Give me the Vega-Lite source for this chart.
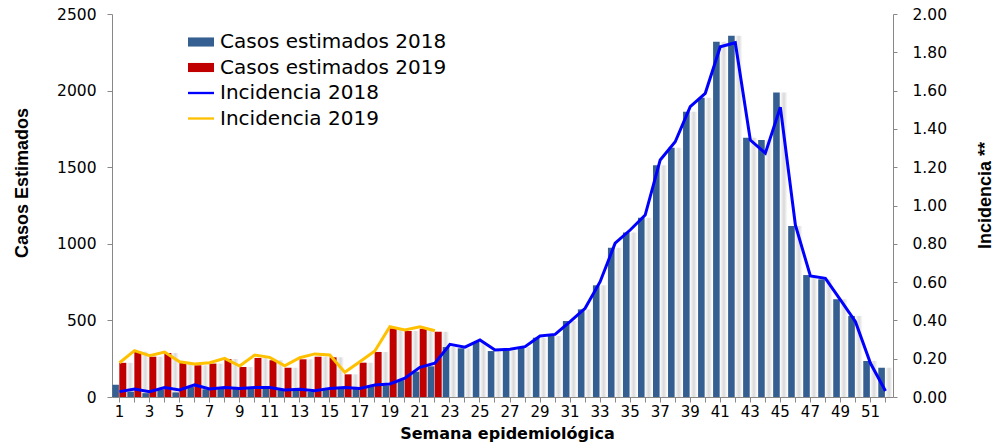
{
  "$schema": "https://vega.github.io/schema/vega-lite/v6.json",
  "width": 781,
  "height": 383,
  "autosize": {"type": "none"},
  "padding": {"left": 112, "top": 14, "right": 110, "bottom": 51},
  "background": "white",
  "config": {"view": {"stroke": null}, "font": "DejaVu Sans"},
  "datasets": {
    "casos": [
      {"semana": 1, "serie": "Casos estimados 2018", "casos": 80},
      {"semana": 2, "serie": "Casos estimados 2018", "casos": 35},
      {"semana": 3, "serie": "Casos estimados 2018", "casos": 25},
      {"semana": 4, "serie": "Casos estimados 2018", "casos": 50},
      {"semana": 5, "serie": "Casos estimados 2018", "casos": 30},
      {"semana": 6, "serie": "Casos estimados 2018", "casos": 65},
      {"semana": 7, "serie": "Casos estimados 2018", "casos": 50},
      {"semana": 8, "serie": "Casos estimados 2018", "casos": 55},
      {"semana": 9, "serie": "Casos estimados 2018", "casos": 55},
      {"semana": 10, "serie": "Casos estimados 2018", "casos": 60},
      {"semana": 11, "serie": "Casos estimados 2018", "casos": 55},
      {"semana": 12, "serie": "Casos estimados 2018", "casos": 45},
      {"semana": 13, "serie": "Casos estimados 2018", "casos": 45},
      {"semana": 14, "serie": "Casos estimados 2018", "casos": 35},
      {"semana": 15, "serie": "Casos estimados 2018", "casos": 50},
      {"semana": 16, "serie": "Casos estimados 2018", "casos": 60},
      {"semana": 17, "serie": "Casos estimados 2018", "casos": 60},
      {"semana": 18, "serie": "Casos estimados 2018", "casos": 70},
      {"semana": 19, "serie": "Casos estimados 2018", "casos": 75},
      {"semana": 20, "serie": "Casos estimados 2018", "casos": 110},
      {"semana": 21, "serie": "Casos estimados 2018", "casos": 165},
      {"semana": 22, "serie": "Casos estimados 2018", "casos": 200},
      {"semana": 23, "serie": "Casos estimados 2018", "casos": 326},
      {"semana": 24, "serie": "Casos estimados 2018", "casos": 318},
      {"semana": 25, "serie": "Casos estimados 2018", "casos": 359},
      {"semana": 26, "serie": "Casos estimados 2018", "casos": 300},
      {"semana": 27, "serie": "Casos estimados 2018", "casos": 305},
      {"semana": 28, "serie": "Casos estimados 2018", "casos": 326},
      {"semana": 29, "serie": "Casos estimados 2018", "casos": 387},
      {"semana": 30, "serie": "Casos estimados 2018", "casos": 398},
      {"semana": 31, "serie": "Casos estimados 2018", "casos": 496},
      {"semana": 32, "serie": "Casos estimados 2018", "casos": 572},
      {"semana": 33, "serie": "Casos estimados 2018", "casos": 729},
      {"semana": 34, "serie": "Casos estimados 2018", "casos": 975},
      {"semana": 35, "serie": "Casos estimados 2018", "casos": 1073},
      {"semana": 36, "serie": "Casos estimados 2018", "casos": 1170},
      {"semana": 37, "serie": "Casos estimados 2018", "casos": 1512},
      {"semana": 38, "serie": "Casos estimados 2018", "casos": 1627},
      {"semana": 39, "serie": "Casos estimados 2018", "casos": 1862},
      {"semana": 40, "serie": "Casos estimados 2018", "casos": 1954},
      {"semana": 41, "serie": "Casos estimados 2018", "casos": 2319},
      {"semana": 42, "serie": "Casos estimados 2018", "casos": 2358},
      {"semana": 43, "serie": "Casos estimados 2018", "casos": 1693},
      {"semana": 44, "serie": "Casos estimados 2018", "casos": 1678},
      {"semana": 45, "serie": "Casos estimados 2018", "casos": 1987},
      {"semana": 46, "serie": "Casos estimados 2018", "casos": 1116},
      {"semana": 47, "serie": "Casos estimados 2018", "casos": 796},
      {"semana": 48, "serie": "Casos estimados 2018", "casos": 768},
      {"semana": 49, "serie": "Casos estimados 2018", "casos": 638},
      {"semana": 50, "serie": "Casos estimados 2018", "casos": 529},
      {"semana": 51, "serie": "Casos estimados 2018", "casos": 235},
      {"semana": 52, "serie": "Casos estimados 2018", "casos": 191},
      {"semana": 1, "serie": "Casos estimados 2019", "casos": 223},
      {"semana": 2, "serie": "Casos estimados 2019", "casos": 296},
      {"semana": 3, "serie": "Casos estimados 2019", "casos": 263},
      {"semana": 4, "serie": "Casos estimados 2019", "casos": 287},
      {"semana": 5, "serie": "Casos estimados 2019", "casos": 224},
      {"semana": 6, "serie": "Casos estimados 2019", "casos": 207},
      {"semana": 7, "serie": "Casos estimados 2019", "casos": 218},
      {"semana": 8, "serie": "Casos estimados 2019", "casos": 248},
      {"semana": 9, "serie": "Casos estimados 2019", "casos": 196},
      {"semana": 10, "serie": "Casos estimados 2019", "casos": 255},
      {"semana": 11, "serie": "Casos estimados 2019", "casos": 240},
      {"semana": 12, "serie": "Casos estimados 2019", "casos": 191},
      {"semana": 13, "serie": "Casos estimados 2019", "casos": 246},
      {"semana": 14, "serie": "Casos estimados 2019", "casos": 263},
      {"semana": 15, "serie": "Casos estimados 2019", "casos": 259},
      {"semana": 16, "serie": "Casos estimados 2019", "casos": 148},
      {"semana": 17, "serie": "Casos estimados 2019", "casos": 224},
      {"semana": 18, "serie": "Casos estimados 2019", "casos": 294},
      {"semana": 19, "serie": "Casos estimados 2019", "casos": 448},
      {"semana": 20, "serie": "Casos estimados 2019", "casos": 431},
      {"semana": 21, "serie": "Casos estimados 2019", "casos": 445},
      {"semana": 22, "serie": "Casos estimados 2019", "casos": 426}
    ],
    "incidencia": [
      {"semana": 1, "serie": "Incidencia 2018", "incidencia": 0.028},
      {"semana": 2, "serie": "Incidencia 2018", "incidencia": 0.042},
      {"semana": 3, "serie": "Incidencia 2018", "incidencia": 0.028},
      {"semana": 4, "serie": "Incidencia 2018", "incidencia": 0.049},
      {"semana": 5, "serie": "Incidencia 2018", "incidencia": 0.037},
      {"semana": 6, "serie": "Incidencia 2018", "incidencia": 0.063},
      {"semana": 7, "serie": "Incidencia 2018", "incidencia": 0.042},
      {"semana": 8, "serie": "Incidencia 2018", "incidencia": 0.049},
      {"semana": 9, "serie": "Incidencia 2018", "incidencia": 0.045},
      {"semana": 10, "serie": "Incidencia 2018", "incidencia": 0.05},
      {"semana": 11, "serie": "Incidencia 2018", "incidencia": 0.05},
      {"semana": 12, "serie": "Incidencia 2018", "incidencia": 0.037},
      {"semana": 13, "serie": "Incidencia 2018", "incidencia": 0.04},
      {"semana": 14, "serie": "Incidencia 2018", "incidencia": 0.033},
      {"semana": 15, "serie": "Incidencia 2018", "incidencia": 0.045},
      {"semana": 16, "serie": "Incidencia 2018", "incidencia": 0.05},
      {"semana": 17, "serie": "Incidencia 2018", "incidencia": 0.045},
      {"semana": 18, "serie": "Incidencia 2018", "incidencia": 0.063},
      {"semana": 19, "serie": "Incidencia 2018", "incidencia": 0.068},
      {"semana": 20, "serie": "Incidencia 2018", "incidencia": 0.098},
      {"semana": 21, "serie": "Incidencia 2018", "incidencia": 0.155},
      {"semana": 22, "serie": "Incidencia 2018", "incidencia": 0.176},
      {"semana": 23, "serie": "Incidencia 2018", "incidencia": 0.275},
      {"semana": 24, "serie": "Incidencia 2018", "incidencia": 0.26},
      {"semana": 25, "serie": "Incidencia 2018", "incidencia": 0.298},
      {"semana": 26, "serie": "Incidencia 2018", "incidencia": 0.245},
      {"semana": 27, "serie": "Incidencia 2018", "incidencia": 0.249},
      {"semana": 28, "serie": "Incidencia 2018", "incidencia": 0.263},
      {"semana": 29, "serie": "Incidencia 2018", "incidencia": 0.319},
      {"semana": 30, "serie": "Incidencia 2018", "incidencia": 0.327},
      {"semana": 31, "serie": "Incidencia 2018", "incidencia": 0.393},
      {"semana": 32, "serie": "Incidencia 2018", "incidencia": 0.463},
      {"semana": 33, "serie": "Incidencia 2018", "incidencia": 0.602},
      {"semana": 34, "serie": "Incidencia 2018", "incidencia": 0.803},
      {"semana": 35, "serie": "Incidencia 2018", "incidencia": 0.872},
      {"semana": 36, "serie": "Incidencia 2018", "incidencia": 0.95},
      {"semana": 37, "serie": "Incidencia 2018", "incidencia": 1.238},
      {"semana": 38, "serie": "Incidencia 2018", "incidencia": 1.333},
      {"semana": 39, "serie": "Incidencia 2018", "incidencia": 1.516},
      {"semana": 40, "serie": "Incidencia 2018", "incidencia": 1.586},
      {"semana": 41, "serie": "Incidencia 2018", "incidencia": 1.829},
      {"semana": 42, "serie": "Incidencia 2018", "incidencia": 1.85},
      {"semana": 43, "serie": "Incidencia 2018", "incidencia": 1.342},
      {"semana": 44, "serie": "Incidencia 2018", "incidencia": 1.273},
      {"semana": 45, "serie": "Incidencia 2018", "incidencia": 1.513},
      {"semana": 46, "serie": "Incidencia 2018", "incidencia": 0.898},
      {"semana": 47, "serie": "Incidencia 2018", "incidencia": 0.632},
      {"semana": 48, "serie": "Incidencia 2018", "incidencia": 0.62},
      {"semana": 49, "serie": "Incidencia 2018", "incidencia": 0.507},
      {"semana": 50, "serie": "Incidencia 2018", "incidencia": 0.393},
      {"semana": 51, "serie": "Incidencia 2018", "incidencia": 0.176},
      {"semana": 52, "serie": "Incidencia 2018", "incidencia": 0.031},
      {"semana": 1, "serie": "Incidencia 2019", "incidencia": 0.179},
      {"semana": 2, "serie": "Incidencia 2019", "incidencia": 0.242},
      {"semana": 3, "serie": "Incidencia 2019", "incidencia": 0.216},
      {"semana": 4, "serie": "Incidencia 2019", "incidencia": 0.235},
      {"semana": 5, "serie": "Incidencia 2019", "incidencia": 0.184},
      {"semana": 6, "serie": "Incidencia 2019", "incidencia": 0.172},
      {"semana": 7, "serie": "Incidencia 2019", "incidencia": 0.179},
      {"semana": 8, "serie": "Incidencia 2019", "incidencia": 0.202},
      {"semana": 9, "serie": "Incidencia 2019", "incidencia": 0.162},
      {"semana": 10, "serie": "Incidencia 2019", "incidencia": 0.219},
      {"semana": 11, "serie": "Incidencia 2019", "incidencia": 0.207},
      {"semana": 12, "serie": "Incidencia 2019", "incidencia": 0.163},
      {"semana": 13, "serie": "Incidencia 2019", "incidencia": 0.205},
      {"semana": 14, "serie": "Incidencia 2019", "incidencia": 0.225},
      {"semana": 15, "serie": "Incidencia 2019", "incidencia": 0.219},
      {"semana": 16, "serie": "Incidencia 2019", "incidencia": 0.129},
      {"semana": 17, "serie": "Incidencia 2019", "incidencia": 0.184},
      {"semana": 18, "serie": "Incidencia 2019", "incidencia": 0.24},
      {"semana": 19, "serie": "Incidencia 2019", "incidencia": 0.367},
      {"semana": 20, "serie": "Incidencia 2019", "incidencia": 0.35},
      {"semana": 21, "serie": "Incidencia 2019", "incidencia": 0.367},
      {"semana": 22, "serie": "Incidencia 2019", "incidencia": 0.346}
    ]
  },
  "layer": [
    {
      "data": {"name": "casos"},
      "layer": [
        {
          "transform": [{"filter": "datum.serie == 'Casos estimados 2018'"}],
          "mark": {"type": "bar", "width": 7, "xOffset": 3.3, "color": {"gradient": "linear", "stops": [{"offset": 0, "color": "#fbfbfb"}, {"offset": 0.55, "color": "#d9d9d9"}, {"offset": 1, "color": "#fbfbfb"}]}},
          "encoding": {
            "x": {"field": "semana", "type": "ordinal", "sort": "ascending", "scale": {"paddingInner": 0, "paddingOuter": 0},
              "axis": {"title": "Semana epidemiológica", "labelExpr": "datum.value % 2 == 1 ? datum.label : ''", "labelAngle": 0, "labelFont": "DejaVu Sans", "labelFontSize": 15, "labelColor": "#000", "labelPadding": 2, "tickSize": 5, "tickColor": "#888", "domainColor": "#888", "titleFont": "DejaVu Sans", "titleFontWeight": "bold", "titleFontSize": 16, "titleColor": "#000", "titleX": 395, "titleY": 36, "titleAlign": "center", "titleBaseline": "middle"}},
            "y": {"field": "casos", "type": "quantitative", "scale": {"domain": [0, 2500], "nice": false},
              "axis": {"title": "Casos Estimados", "values": [0, 500, 1000, 1500, 2000, 2500], "format": "d", "grid": false, "labelFont": "DejaVu Sans", "labelFontSize": 15.5, "labelColor": "#000", "labelPadding": 11, "tickSize": 5, "tickColor": "#888", "domainColor": "#888", "titleFont": "Liberation Sans", "titleFontWeight": "bold", "titleFontSize": 18, "titleColor": "#000", "titleAngle": 270, "titleX": -90, "titleY": 168.5, "titleAlign": "center", "titleBaseline": "middle"}}
          }
        },
        {
          "transform": [{"filter": "datum.serie == 'Casos estimados 2019'"}],
          "mark": {"type": "bar", "width": 7, "xOffset": 10.5, "color": {"gradient": "linear", "stops": [{"offset": 0, "color": "#fbfbfb"}, {"offset": 0.55, "color": "#d9d9d9"}, {"offset": 1, "color": "#fbfbfb"}]}},
          "encoding": {
            "x": {"field": "semana", "type": "ordinal", "sort": "ascending"},
            "y": {"field": "casos", "type": "quantitative"}
          }
        },
        {
          "transform": [{"filter": "datum.serie == 'Casos estimados 2018'"}],
          "mark": {"type": "bar", "width": 6.6, "xOffset": -3.9},
          "encoding": {
            "x": {"field": "semana", "type": "ordinal", "sort": "ascending"},
            "y": {"field": "casos", "type": "quantitative"},
            "color": {"field": "serie", "type": "nominal",
              "scale": {"domain": ["Casos estimados 2018", "Casos estimados 2019", "Incidencia 2018", "Incidencia 2019"], "range": ["#365F91", "#C00000", "#0000FF", "#FFC000"]},
              "legend": {"title": null, "orient": "none", "legendX": 76, "legendY": 15, "padding": 0, "symbolSize": 676, "rowPadding": 2.5, "labelOffset": 6, "labelFont": "DejaVu Sans", "labelFontSize": 20, "labelColor": "#000", "labelLimit": 400,
                "encode": {"symbols": {"update": {"shape": {"signal": "test(/Casos/, datum.label) ? 'M-1,-0.35H1V0.35H-1Z' : 'M-1,-0.09H1V0.09H-1Z'"}, "fill": {"scale": "color", "field": "value"}, "stroke": {"value": "transparent"}, "strokeWidth": {"value": 0}, "opacity": {"value": 1}}}}}}
          }
        },
        {
          "transform": [{"filter": "datum.serie == 'Casos estimados 2019'"}],
          "mark": {"type": "bar", "width": 7, "xOffset": 3.3},
          "encoding": {
            "x": {"field": "semana", "type": "ordinal", "sort": "ascending"},
            "y": {"field": "casos", "type": "quantitative"},
            "color": {"field": "serie", "type": "nominal"}
          }
        }
      ]
    },
    {
      "data": {"name": "incidencia"},
      "mark": {"type": "line", "strokeWidth": 3},
      "encoding": {
        "x": {"field": "semana", "type": "ordinal", "sort": "ascending"},
        "y": {"field": "incidencia", "type": "quantitative", "scale": {"domain": [0, 2], "nice": false},
          "axis": {"orient": "right", "title": "Incidencia **", "values": [0, 0.2, 0.4, 0.6, 0.8, 1, 1.2, 1.4, 1.6, 1.8, 2], "format": ".2f", "grid": false, "labelFont": "DejaVu Sans", "labelFontSize": 15.5, "labelColor": "#000", "labelPadding": 15, "tickSize": 4, "tickColor": "#888", "domainColor": "#888", "titleFont": "Liberation Sans", "titleFontWeight": "bold", "titleFontSize": 18, "titleColor": "#000", "titleAngle": 270, "titleX": 92, "titleY": 181, "titleAlign": "center", "titleBaseline": "middle"}},
        "color": {"field": "serie", "type": "nominal"}
      }
    }
  ],
  "resolve": {"scale": {"y": "independent"}}
}
